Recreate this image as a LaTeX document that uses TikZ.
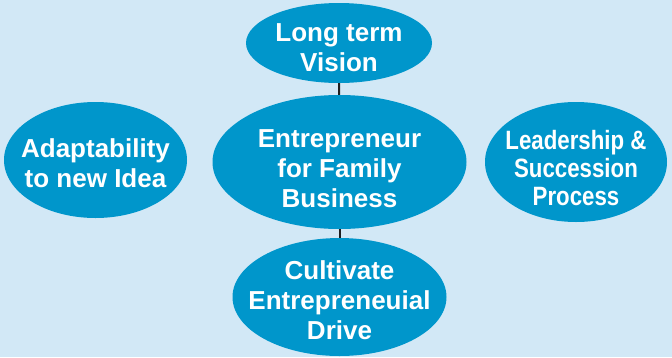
\documentclass[tikz,border=0pt]{standalone}
\usepackage{fontspec}
\setmainfont{Liberation Sans}
\newfontfamily\narrowfont[FakeStretch=0.84]{Liberation Sans}
\usetikzlibrary{shapes.geometric}
\definecolor{bg}{RGB}{210,232,246}
\definecolor{bubble}{RGB}{0,150,203}
\definecolor{linec}{RGB}{30,30,30}
\tikzset{
  bub/.style={ellipse, fill=bubble, draw=none, inner sep=0pt},
  lbl/.style={text=white, align=center, inner sep=0pt, font=\bfseries\fontsize{26}{30}\selectfont},
  lblnarrow/.style={text=white, align=center, inner sep=0pt, font=\narrowfont\bfseries\fontsize{26.5}{28}\selectfont},
  conn/.style={draw=linec, line width=2pt}
}
\begin{document}
\begin{tikzpicture}[x=1pt,y=-1pt]
\fill[bg] (0,0) rectangle (672,357);
\useasboundingbox (0,0) rectangle (672,357);
\node[bub, minimum width=186pt, minimum height=80pt] (top) at (339,43) {};
\node[bub, minimum width=254pt, minimum height=134pt] (mid) at (339.5,162) {};
\node[bub, minimum width=214pt, minimum height=118pt] (bot) at (339.5,297) {};
\node[bub, minimum width=183pt, minimum height=116pt] (left) at (95.5,160) {};
\node[bub, minimum width=182pt, minimum height=120pt] (right) at (576,162) {};
\node[lbl] (toptxt) at ([yshift=-5pt]top.center) {Long term\\Vision};
\node[lbl] (midtxt) at ([yshift=-7pt]mid.center) {Entrepreneur\\for Family\\Business};
\node[lbl] (bottxt) at ([yshift=-3pt]bot.center) {Cultivate\\Entrepreneuial\\Drive};
\node[lbl] (lefttxt) at ([yshift=-3pt]left.center) {Adaptability\\to new Idea};
\node[lblnarrow] (righttxt) at ([yshift=-6pt]right.center) {Leadership \&\\Succession\\Process};
\draw[conn] (top) -- (mid);
\draw[conn] (mid) -- (bot);
\end{tikzpicture}
\end{document}
